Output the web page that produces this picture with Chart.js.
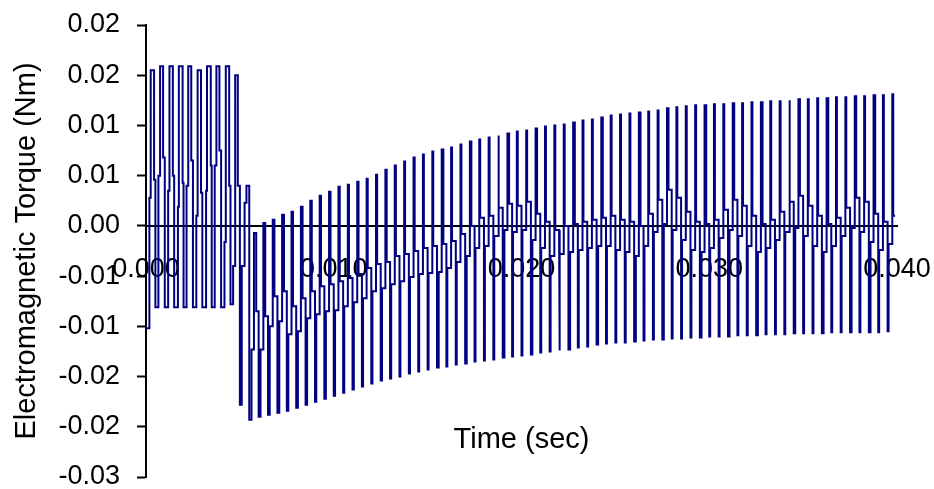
<!DOCTYPE html>
<html>
<head>
<meta charset="utf-8">
<title>Electromagnetic Torque</title>
<script src="https://cdn.jsdelivr.net/npm/chart.js@4.4.0/dist/chart.umd.min.js"></script>
<style>
  html, body { margin: 0; padding: 0; background: #fff; }
</style>
</head>
<body>
<canvas id="torque" width="934" height="489"></canvas>
<script>
// switching period of the inverter (2 kHz), seconds
const PERIOD = 0.0005;
const END_TIME = 0.0399;

// per switching cycle: pulse duration (s), negative pulse, level after it,
// positive pulse, level after it (Nm)
const pulseWidth = [
  0.00018, 0.00016, 0.00018, 0.00020, 0.00016, 0.00018, 0.00020, 0.00016, 0.00018, 0.00014,
  0.00010, 0.00012, 0.00010, 0.00009, 0.00010, 0.00008, 0.00009, 0.00008, 0.00007, 0.00008,
  0.00007, 0.00006, 0.00007, 0.00006, 0.00006, 0.00007, 0.00006, 0.00005, 0.00006, 0.00005,
  0.00005, 0.00009, 0.00005, 0.00005, 0.00008, 0.00005, 0.00005, 0.00005, 0.00009, 0.00005,
  0.00005, 0.00008, 0.00005, 0.00005, 0.00005, 0.00009, 0.00005, 0.00005, 0.00008, 0.00005,
  0.00005, 0.00005, 0.00009, 0.00005, 0.00005, 0.00008, 0.00005, 0.00005, 0.00005, 0.00009,
  0.00005, 0.00005, 0.00008, 0.00005, 0.00005, 0.00009, 0.00005, 0.00005, 0.00005, 0.00008,
  0.00005, 0.00005, 0.00009, 0.00005, 0.00005, 0.00008, 0.00005, 0.00009, 0.00005, 0.00005
];
const pulseLow = [
  -0.0102, -0.0081, -0.0081, -0.0081, -0.0081, -0.0081, -0.0081, -0.0081, -0.0081, -0.0078,
  -0.0178, -0.0193, -0.0190, -0.0188, -0.0186, -0.0184, -0.0181, -0.0178, -0.0175, -0.0172,
  -0.0169, -0.0166, -0.0163, -0.0160, -0.0157, -0.0154, -0.0152, -0.0150, -0.0147, -0.0145,
  -0.0143, -0.0141, -0.0140, -0.0138, -0.0137, -0.0135, -0.0134, -0.0133, -0.0131, -0.0130,
  -0.0129, -0.0128, -0.0126, -0.0125, -0.0124, -0.0123, -0.0121, -0.0120, -0.0118, -0.0117,
  -0.0116, -0.0116, -0.0115, -0.0114, -0.0113, -0.0113, -0.0112, -0.0112, -0.0111, -0.0111,
  -0.0110, -0.0110, -0.0110, -0.0109, -0.0109, -0.0109, -0.0108, -0.0108, -0.0108, -0.0107,
  -0.0107, -0.0107, -0.0107, -0.0106, -0.0106, -0.0106, -0.0106, -0.0106, -0.0106, -0.0105
];
const levelAfterLow = [
   0.0028,  0.0050,  0.0035,  0.0019,  0.0040,  0.0010,  0.0035,  0.0060, -0.0016, -0.0040,
  -0.0040, -0.0123, -0.0123, -0.0100, -0.0095, -0.0108, -0.0105, -0.0092, -0.0088, -0.0085,
  -0.0084, -0.0080, -0.0076, -0.0072, -0.0065, -0.0062, -0.0058, -0.0055, -0.0051, -0.0048,
  -0.0047, -0.0046, -0.0042, -0.0036, -0.0030, -0.0022, -0.0020, -0.0010, -0.0004, -0.0006,
  -0.0004, -0.0014, -0.0022, -0.0030, -0.0028, -0.0026, -0.0024, -0.0022, -0.0020, -0.0020,
  -0.0024, -0.0026, -0.0030, -0.0020, -0.0006,  0.0002, -0.0004, -0.0014, -0.0024, -0.0026,
  -0.0022, -0.0012, -0.0004, -0.0010, -0.0020, -0.0026, -0.0022, -0.0014, -0.0006, -0.0002,
  -0.0010, -0.0020, -0.0026, -0.0020, -0.0010, -0.0002, -0.0006, -0.0016, -0.0024, -0.0018
];
const pulseHigh = [
   0.0155,  0.0159,  0.0159,  0.0159,  0.0159,  0.0155,  0.0159,  0.0159,  0.0159,  0.0150,
   0.0023, -0.0007,  0.0003,  0.0006,  0.0011,  0.0014,  0.0019,  0.0025,  0.0030,  0.0034,
   0.0039,  0.0041,  0.0044,  0.0047,  0.0051,  0.0056,  0.0060,  0.0064,  0.0068,  0.0071,
   0.0074,  0.0076,  0.0078,  0.0081,  0.0084,  0.0086,  0.0088,  0.0090,  0.0092,  0.0094,
   0.0095,  0.0097,  0.0099,  0.0100,  0.0101,  0.0103,  0.0105,  0.0106,  0.0108,  0.0110,
   0.0111,  0.0112,  0.0113,  0.0114,  0.0115,  0.0117,  0.0118,  0.0119,  0.0120,  0.0120,
   0.0121,  0.0121,  0.0122,  0.0122,  0.0123,  0.0123,  0.0124,  0.0124,  0.0125,  0.0126,
   0.0126,  0.0127,  0.0127,  0.0128,  0.0128,  0.0129,  0.0129,  0.0130,  0.0130,  0.0131
];
const levelAfterHigh = [
   0.0046,  0.0068,  0.0050,  0.0043,  0.0065,  0.0033,  0.0060,  0.0075,  0.0040,  0.0040,
   0.0040, -0.0085, -0.0090, -0.0070, -0.0065, -0.0080, -0.0072, -0.0065, -0.0060, -0.0058,
  -0.0055, -0.0052, -0.0048, -0.0042, -0.0038, -0.0036, -0.0030, -0.0028, -0.0025, -0.0022,
  -0.0020, -0.0018, -0.0015, -0.0008,  0.0000,  0.0008,  0.0010,  0.0018,  0.0022,  0.0020,
   0.0024,  0.0012,  0.0004, -0.0004,  0.0000,  0.0002,  0.0004,  0.0006,  0.0008,  0.0010,
   0.0006,  0.0004,  0.0000,  0.0012,  0.0026,  0.0036,  0.0028,  0.0014,  0.0004,  0.0002,
   0.0006,  0.0016,  0.0026,  0.0020,  0.0010,  0.0002,  0.0006,  0.0014,  0.0024,  0.0030,
   0.0020,  0.0010,  0.0002,  0.0008,  0.0018,  0.0028,  0.0024,  0.0012,  0.0004,  0.0010
];

const yTickLabels = ['-0.03', '-0.02', '-0.02', '-0.01', '-0.01', '0.00', '0.01', '0.01', '0.02', '0.02'];

// step-wise torque trace: each cycle gives a negative then a positive pulse
const torque = [];
for (let i = 0; i < pulseLow.length; i++) {
  const t0 = i * PERIOD;
  const t1 = t0 + PERIOD / 2;
  const w = pulseWidth[i];
  if (i > 0) torque.push({ x: t0, y: levelAfterHigh[i - 1] });
  torque.push(
    { x: t0, y: pulseLow[i] },
    { x: t0 + w, y: pulseLow[i] },
    { x: t0 + w, y: levelAfterLow[i] },
    { x: t1, y: levelAfterLow[i] },
    { x: t1, y: pulseHigh[i] },
    { x: t1 + w, y: pulseHigh[i] },
    { x: t1 + w, y: levelAfterHigh[i] }
  );
}
torque.push({ x: END_TIME, y: levelAfterHigh[levelAfterHigh.length - 1] });

const FONT = '"Liberation Sans", Arial, sans-serif';

// x axis title sits low in the plot, under the trace
const timeTitle = {
  id: 'timeTitle',
  afterDraw(chart) {
    const { ctx, chartArea, scales } = chart;
    ctx.save();
    ctx.font = '29px ' + FONT;
    ctx.fillStyle = '#000';
    ctx.textAlign = 'center';
    ctx.textBaseline = 'middle';
    ctx.fillText('Time (sec)', (chartArea.left + chartArea.right) / 2, scales.y.getPixelForValue(-0.0213));
    ctx.restore();
  }
};

new Chart(document.getElementById('torque'), {
  type: 'line',
  data: {
    datasets: [{
      data: torque,
      borderColor: '#000080',
      borderWidth: 2,
      pointRadius: 0,
      tension: 0,
      fill: false
    }]
  },
  options: {
    responsive: false,
    animation: false,
    layout: { padding: { top: 25, right: 37, bottom: 12, left: 0 } },
    plugins: { legend: { display: false }, tooltip: { enabled: false } },
    scales: {
      x: {
        type: 'linear',
        position: { y: 0 },
        min: 0,
        max: 0.04,
        z: 1,
        border: { color: '#000', width: 2 },
        grid: { drawOnChartArea: false, drawTicks: false },
        ticks: {
          stepSize: 0.01,
          autoSkip: false,
          maxRotation: 0,
          padding: 27,
          color: '#000',
          font: { family: FONT, size: 27 },
          callback: v => v.toFixed(3)
        },
        afterFit: scale => { scale.paddingLeft = 0; scale.paddingRight = 0; }
      },
      y: {
        min: -0.025,
        max: 0.02,
        border: { color: '#000', width: 2 },
        grid: { drawOnChartArea: false, drawTicks: true, tickLength: 9, tickWidth: 2, tickColor: '#000' },
        ticks: {
          stepSize: 0.005,
          padding: 17,
          color: '#000',
          font: { family: FONT, size: 27, lineHeight: 0.9 },
          callback: (v, i) => yTickLabels[i]
        },
        title: {
          display: true,
          text: 'Electromagnetic Torque (Nm)',
          color: '#000',
          font: { family: FONT, size: 29 },
          padding: { top: 10, bottom: 0 }
        },
        afterFit: scale => { scale.width = 146; scale.paddingTop = 0; scale.paddingBottom = 0; }
      }
    }
  },
  plugins: [timeTitle]
});
</script>
</body>
</html>
